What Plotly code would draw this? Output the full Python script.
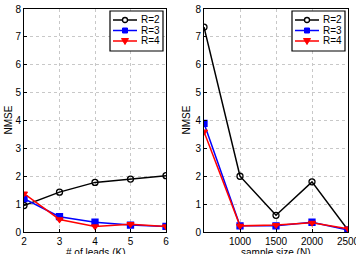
import plotly.graph_objects as go

K = [2, 3, 4, 5, 6]
left_r2 = [0.95, 1.43, 1.78, 1.90, 2.02]
left_r3 = [1.20, 0.55, 0.35, 0.25, 0.20]
left_r4 = [1.38, 0.45, 0.20, 0.28, 0.20]

N = [500, 1000, 1500, 2000, 2500]
right_r2 = [7.35, 2.00, 0.60, 1.80, 0.07]
right_r3 = [3.90, 0.22, 0.22, 0.35, 0.07]
right_r4 = [3.60, 0.22, 0.25, 0.33, 0.12]
right_ticks = [1000, 1500, 2000, 2500]

names = ["R=2", "R=3", "R=4"]
colors = ["black", "#0000ff", "#ff0000"]
symbols = ["circle-open", "square", "triangle-down"]

W, H = 356, 254
fig = go.Figure()

left = [left_r2, left_r3, left_r4]
right = [right_r2, right_r3, right_r4]
for i in range(3):
    fig.add_trace(go.Scatter(x=K, y=left[i], name=names[i], mode="lines+markers",
                             line=dict(color=colors[i], width=1.5),
                             marker=dict(symbol=symbols[i], size=6, color=colors[i],
                                         line=dict(color=colors[i], width=1.3)),
                             xaxis="x", yaxis="y", showlegend=False))
for i in range(3):
    fig.add_trace(go.Scatter(x=N, y=right[i], name=names[i], mode="lines+markers",
                             line=dict(color=colors[i], width=1.5),
                             marker=dict(symbol=symbols[i], size=6, color=colors[i],
                                         line=dict(color=colors[i], width=1.3)),
                             xaxis="x2", yaxis="y2", showlegend=False))

ydom = [1 - 232 / H, 1 - 9 / H]
xdom1 = [24 / W, 166 / W]
xdom2 = [204 / W, 348 / W]
axcommon = dict(showline=True, linecolor="black", linewidth=1, mirror=True,
                ticks="inside", ticklen=3, tickcolor="black", automargin=False,
                ticklabeloverflow="allow",
                showgrid=True, gridcolor="#c8c8c8", griddash="dot", gridwidth=1,
                zeroline=False, tickfont=dict(family="Liberation Sans, Arial", size=10, color="black"))

font = dict(family="Liberation Sans, Arial", size=10, color="black")
annotations = [
    dict(text="# of leads (K)", xref="paper", yref="paper", x=sum(xdom1) / 2, y=1 - 245 / H,
         xanchor="center", yanchor="top", showarrow=False, font=font),
    dict(text="sample size (N)", xref="paper", yref="paper", x=sum(xdom2) / 2, y=1 - 245 / H,
         xanchor="center", yanchor="top", showarrow=False, font=font),
    dict(text="NMSE", xref="paper", yref="paper", x=8 / W, y=sum(ydom) / 2,
         xanchor="center", yanchor="middle", textangle=-90, showarrow=False, font=font),
    dict(text="NMSE", xref="paper", yref="paper", x=186 / W, y=sum(ydom) / 2,
         xanchor="center", yanchor="middle", textangle=-90, showarrow=False, font=font),
]
shapes = []


# compact MATLAB-style legend boxes (pixel layout converted to paper coords)
def px(x):
    return x / W


def py(y):
    return 1 - y / H


def add_legend(bx):
    bx1 = bx + 53
    ytop, ybot = 11, 51
    path = "M {a} {b} L {c} {b} L {c} {d} L {a} {d} Z".format(a=px(bx), b=py(ytop), c=px(bx1), d=py(ybot))
    shapes.append(dict(type="path", xref="paper", yref="paper", path=path,
                       line=dict(color="black", width=1.2), fillcolor="white", layer="above"))
    rows = [20, 30.5, 41]
    for i, name in enumerate(names):
        yc = rows[i]
        shapes.append(dict(type="line", xref="paper", yref="paper", x0=px(bx + 3), x1=px(bx + 27),
                           y0=py(yc), y1=py(yc), line=dict(color=colors[i], width=1.5), layer="above"))
        mx = bx + 15
        if i == 0:
            shapes.append(dict(type="circle", xref="paper", yref="paper", x0=px(mx - 2.5), x1=px(mx + 2.5),
                               y0=py(yc + 2.5), y1=py(yc - 2.5), line=dict(color=colors[i], width=1.3),
                               fillcolor="white", layer="above"))
        elif i == 1:
            shapes.append(dict(type="rect", xref="paper", yref="paper", x0=px(mx - 2.5), x1=px(mx + 2.5),
                               y0=py(yc + 2.5), y1=py(yc - 2.5), line=dict(color=colors[i], width=1),
                               fillcolor=colors[i], layer="above"))
        else:
            tpath = "M {} {} L {} {} L {} {} Z".format(px(mx - 3.5), py(yc - 2.5), px(mx + 3.5), py(yc - 2.5),
                                                      px(mx), py(yc + 3.5))
            shapes.append(dict(type="path", xref="paper", yref="paper", path=tpath,
                               line=dict(color=colors[i], width=1), fillcolor=colors[i], layer="above"))
        annotations.append(dict(text=name, xref="paper", yref="paper", x=px(bx + 29), y=py(yc),
                                xanchor="left", yanchor="middle", showarrow=False, font=font))


add_legend(110)
add_legend(292)

fig.update_layout(
    width=W, height=H, margin=dict(l=0, r=0, t=0, b=0, autoexpand=False),
    plot_bgcolor="white", paper_bgcolor="white",
    font=font,
    xaxis=dict(domain=xdom1, range=[2, 6.0001], tickvals=K, anchor="y", **axcommon),
    yaxis=dict(domain=ydom, range=[0, 8.0001], dtick=1, anchor="x", **axcommon),
    xaxis2=dict(domain=xdom2, range=[500, 2500.05], tickvals=right_ticks, anchor="y2", **axcommon),
    yaxis2=dict(domain=ydom, range=[0, 8.0001], dtick=1, anchor="x2", **axcommon),
    annotations=annotations,
    shapes=shapes,
    showlegend=False,
)

fig.write_html("out.html")
